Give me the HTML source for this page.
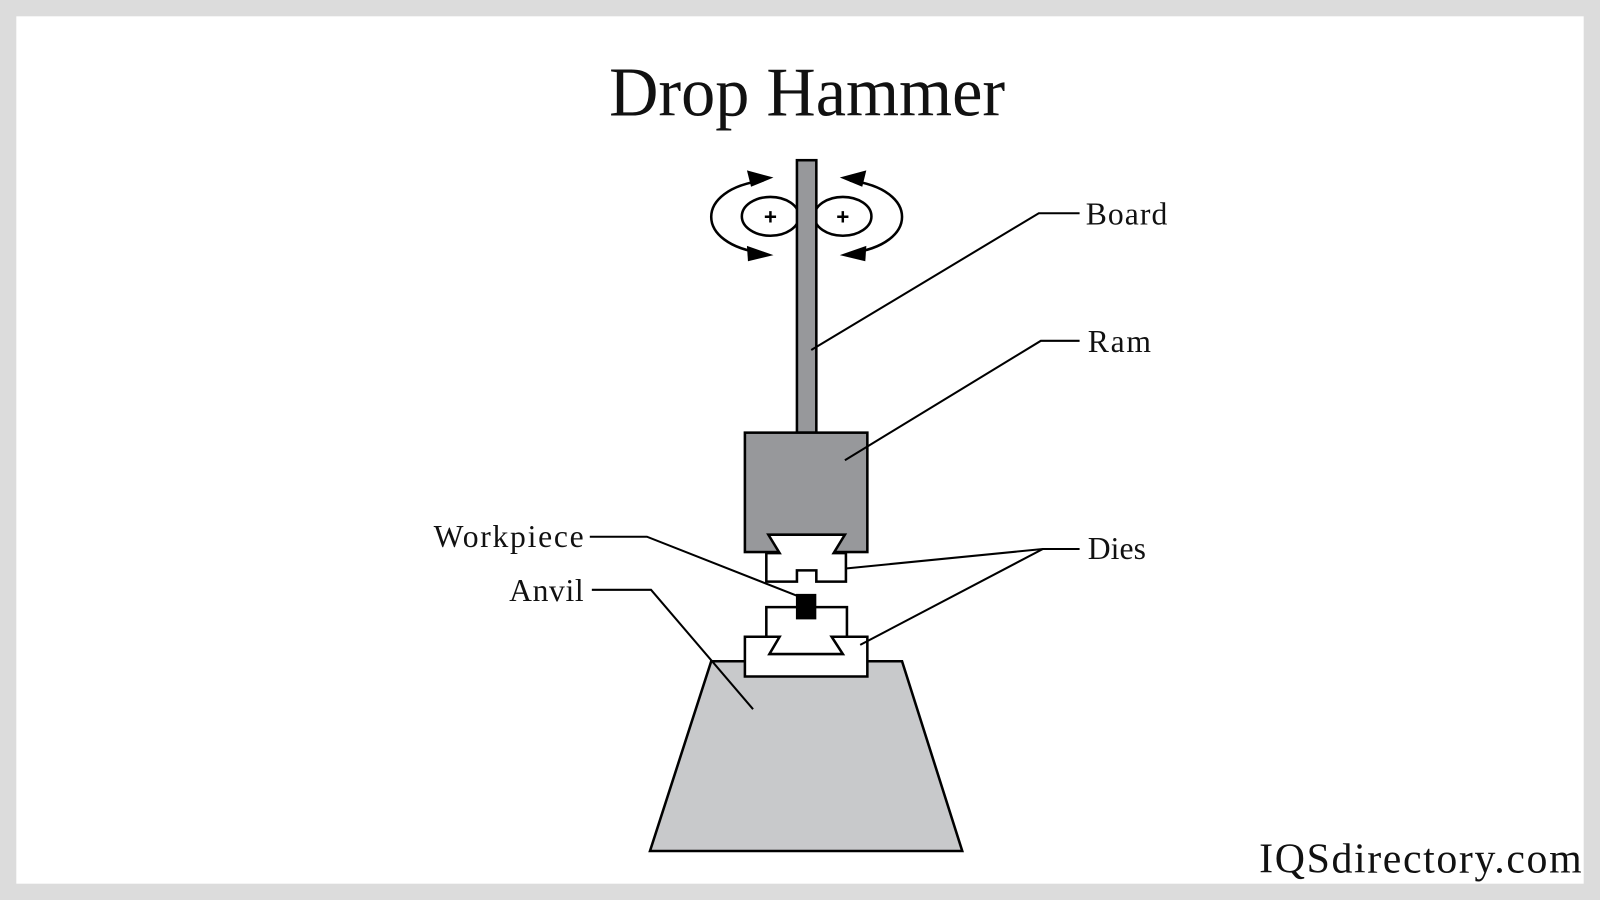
<!DOCTYPE html>
<html><head><style>html,body{margin:0;padding:0;background:#dcdcdc}svg{display:block}</style></head>
<body>
<svg width="1600" height="900" viewBox="0 0 1568 882" preserveAspectRatio="none" xmlns="http://www.w3.org/2000/svg">
<rect x="0" y="0" width="1568" height="882" fill="#dcdcdc"/>
<rect x="16" y="16" width="1536" height="850" fill="#fff"/>
<text x="791" y="113" font-family="Liberation Serif, serif" font-size="68" text-anchor="middle" fill="#111" textLength="388" lengthAdjust="spacingAndGlyphs">Drop Hammer</text>
<g stroke="#000" stroke-width="2.5" fill="none">
<path d="M748,177 C680,185 680,240 748,248"/>
<path d="M833,177 C901,185 901,240 833,248"/>
</g>
<g fill="#000">
<polygon points="758,174 732,167 736,183"/>
<polygon points="758,250 732,241 733,256"/>
<polygon points="823,174 849,167 845,183"/>
<polygon points="823,250 849,241 848,256"/>
</g>
<g stroke="#000" stroke-width="2.5" fill="#fff">
<ellipse cx="755" cy="212" rx="28" ry="19"/>
<ellipse cx="826" cy="212" rx="28" ry="19"/>
</g>
<g font-family="Liberation Sans, sans-serif" font-size="22" font-weight="bold" text-anchor="middle"><text x="755" y="220">+</text><text x="826" y="220">+</text></g>
<rect x="781" y="157" width="19" height="267" fill="#97989b" stroke="#000" stroke-width="2.5"/>
<rect x="730" y="424" width="120" height="117" fill="#97989b" stroke="#000" stroke-width="2.5"/>
<polygon points="637,834 697,648 884,648 943,834" fill="#c8c9cb" stroke="#000" stroke-width="2.5"/>
<g stroke="#000" stroke-width="2.5" fill="#fff">
<path d="M753,524 L828,524 L817,542 L829,542 L829,570 L800,570 L800,559 L781,559 L781,570 L751,570 L751,542 L764,542 Z"/>
<path d="M751,595 L830,595 L830,624 L850,624 L850,663 L730,663 L730,624 L751,624 Z"/>
</g>
<path d="M730,624 L764,624 L754,641 L826,641 L815,624 L850,624" fill="none" stroke="#000" stroke-width="2.5"/>
<rect x="780" y="582" width="20" height="25" fill="#000"/>
<g stroke="#000" stroke-width="2" fill="none">
<polyline points="795,343 1018,209 1058,209"/>
<polyline points="828,451 1020,334 1058,334"/>
<polyline points="830,557 1022,538 1058,538"/>
<line x1="843" y1="632" x2="1022" y2="538"/>
<polyline points="578,526 634,526 784,585"/>
<polyline points="580,578 638,578 738,695"/>
</g>
<g font-family="Liberation Serif, serif" font-size="31" fill="#111" lengthAdjust="spacingAndGlyphs">
<text x="1064" y="220" textLength="80">Board</text>
<text x="1066" y="345" textLength="62">Ram</text>
<text x="1066" y="548" textLength="57">Dies</text>
<text x="425" y="536" textLength="147">Workpiece</text>
<text x="499" y="589" textLength="73">Anvil</text>
<text x="1550" y="855" text-anchor="end" font-size="41" textLength="316">IQSdirectory.com</text>
</g>
</svg>
</body></html>
